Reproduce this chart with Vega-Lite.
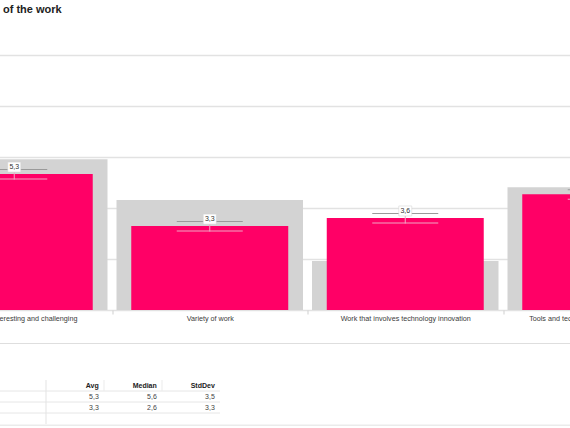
{
  "$schema": "https://vega.github.io/schema/vega-lite/v6.json",
  "autosize": {"type": "pad"},
  "padding": {"left": -84.5, "right": -127.5, "top": 4, "bottom": 0},
  "background": "white",
  "config": {
    "font": "Liberation Sans",
    "view": {"stroke": null},
    "locale": {"number": {"decimal": ",", "thousands": ".", "grouping": [3], "currency": ["", " €"]}}
  },
  "title": {"text": "of the work", "anchor": "start", "fontSize": 11, "fontWeight": "bold", "color": "#222", "dx": 87, "offset": 40, "font": "Liberation Sans"},
  "spacing": 70,
  "bounds": "flush",
  "vconcat": [
    {
      "width": 782,
      "height": 255,
      "data": {"values": [
        {"item": "Work that is interesting and challenging", "avg": 5.33, "bench": 5.91},
        {"item": "Variety of work", "avg": 3.29, "bench": 4.31},
        {"item": "Work that involves technology innovation", "avg": 3.61, "bench": 1.92},
        {"item": "Tools and technologies used in the daily work", "avg": 4.54, "bench": 4.81}
      ]},
      "layer": [
        {"mark": {"type": "bar", "color": "#d3d3d3", "width": {"band": 0.954}},
         "encoding": {
           "x": {"field": "item", "type": "nominal", "sort": null,
             "scale": {"paddingInner": 0, "paddingOuter": 0},
             "axis": {"orient": "bottom", "title": null, "labelAngle": 0, "labelFontSize": 7.2, "labelColor": "#3a3a3a", "labelFont": "Liberation Sans", "domain": false, "ticks": true, "tickBand": "extent", "tickSize": 4, "tickColor": "#cfcfcf", "labelPadding": 0, "grid": false}},
           "y": {"field": "bench", "type": "quantitative", "scale": {"domain": [0, 10], "nice": false},
             "axis": {"title": null, "labels": false, "ticks": false, "domain": false, "grid": true, "gridColor": "#e2e2e2", "gridWidth": 1.5, "values": [0,1,2,3,4,5,6,7,8,9,10]}}}},
        {"mark": {"type": "bar", "color": "#ff0066", "width": {"band": 0.803}},
         "encoding": {
           "x": {"field": "item", "type": "nominal", "sort": null,
             "axis": {"orient": "bottom", "title": null, "labels": false, "ticks": false, "grid": false, "domain": true, "domainColor": "#dedede", "offset": 33}},
           "y": {"field": "avg", "type": "quantitative"}}},
        {"mark": {"type": "tick", "color": "#9a9a9a", "size": 66, "thickness": 1, "opacity": 1, "yOffset": -4.5},
         "encoding": {
           "x": {"field": "item", "type": "nominal", "sort": null,
             "axis": {"orient": "bottom", "title": null, "labels": false, "ticks": false, "grid": false, "domain": true, "domainColor": "#ebebeb", "domainWidth": 4, "offset": 116}},
           "y": {"field": "avg", "type": "quantitative"}}},
        {"mark": {"type": "tick", "color": "#f2a6c4", "size": 66, "thickness": 1, "opacity": 1, "yOffset": 5},
         "encoding": {"x": {"field": "item", "type": "nominal", "sort": null, "axis": null}, "y": {"field": "avg", "type": "quantitative"}}},
        {"mark": {"type": "tick", "orient": "vertical", "color": "#f2a6c4", "size": 8, "thickness": 1, "opacity": 1, "yOffset": 1.5},
         "encoding": {"x": {"field": "item", "type": "nominal", "sort": null, "axis": null}, "y": {"field": "avg", "type": "quantitative"}}},
        {"mark": {"type": "point", "shape": "M-1.3,-1H1.3V1H-1.3Z", "size": 100, "filled": true, "fill": "white", "stroke": "#d0d0d0", "strokeWidth": 0.5, "opacity": 1, "yOffset": -7},
         "encoding": {"x": {"field": "item", "type": "nominal", "sort": null, "axis": null}, "y": {"field": "avg", "type": "quantitative"}}},
        {"mark": {"type": "text", "fontSize": 7, "color": "#333", "yOffset": -7, "baseline": "middle", "font": "Liberation Sans"},
         "encoding": {"x": {"field": "item", "type": "nominal", "sort": null, "axis": null}, "y": {"field": "avg", "type": "quantitative"}, "text": {"field": "avg", "type": "quantitative", "format": ".1f"}}}
      ],
      "resolve": {"axis": {"x": "independent"}}
    },
    {
      "width": 406,
      "height": 44,
      "layer": [
        {"data": {"values": [{"row": "h", "col": "Avg"}, {"row": "h", "col": "Median"}, {"row": "h", "col": "StdDev"}]},
         "mark": {"type": "text", "align": "right", "baseline": "middle", "fontSize": 7, "fontWeight": "bold", "color": "#222", "font": "Liberation Sans"},
         "encoding": {
           "x": {"field": "col", "type": "nominal", "sort": null, "bandPosition": 0.91,
             "scale": {"domain": ["_a", "_b", "Avg", "Median", "StdDev"], "paddingInner": 0, "paddingOuter": 1, "align": 0.1164},
             "axis": null},
           "y": {"field": "row", "type": "nominal", "scale": {"domain": ["h", "r1", "r2", "r3"], "paddingInner": 0, "paddingOuter": 0}, "axis": null},
           "text": {"field": "col"}}},
        {"data": {"values": [
           {"row": "r1", "col": "Avg", "v": 5.3}, {"row": "r1", "col": "Median", "v": 5.6}, {"row": "r1", "col": "StdDev", "v": 3.5},
           {"row": "r2", "col": "Avg", "v": 3.3}, {"row": "r2", "col": "Median", "v": 2.6}, {"row": "r2", "col": "StdDev", "v": 3.3}]},
         "mark": {"type": "text", "align": "right", "baseline": "middle", "fontSize": 7, "color": "#444", "font": "Liberation Sans"},
         "encoding": {
           "x": {"field": "col", "type": "nominal", "sort": null, "bandPosition": 0.91, "axis": null},
           "y": {"field": "row", "type": "nominal", "axis": null},
           "text": {"field": "v", "type": "quantitative", "format": ".1f"}}},
        {"data": {"values": [{"row": "h"}, {"row": "r1"}, {"row": "r2"}]},
         "mark": {"type": "rule", "color": "#e6e6e6"},
         "encoding": {
           "x": {"datum": "_a", "bandPosition": 0, "axis": null},
           "x2": {"datum": "StdDev", "bandPosition": 1},
           "y": {"field": "row", "type": "nominal", "bandPosition": 1, "axis": null}}},
        {"data": {"values": [{"row": "h", "col": "Median"}, {"row": "h", "col": "StdDev"}]},
         "mark": {"type": "tick", "orient": "vertical", "color": "#ececec", "size": 11, "thickness": 1, "opacity": 1},
         "encoding": {
           "x": {"field": "col", "type": "nominal", "bandPosition": 0, "axis": null},
           "y": {"field": "row", "type": "nominal", "axis": null}}},
        {"data": {"values": [{"row": "h"}]},
         "mark": {"type": "rule", "color": "#e3e3e3"},
         "encoding": {"x": {"datum": "Avg", "bandPosition": 0, "axis": null}}}
      ]
    }
  ]
}
